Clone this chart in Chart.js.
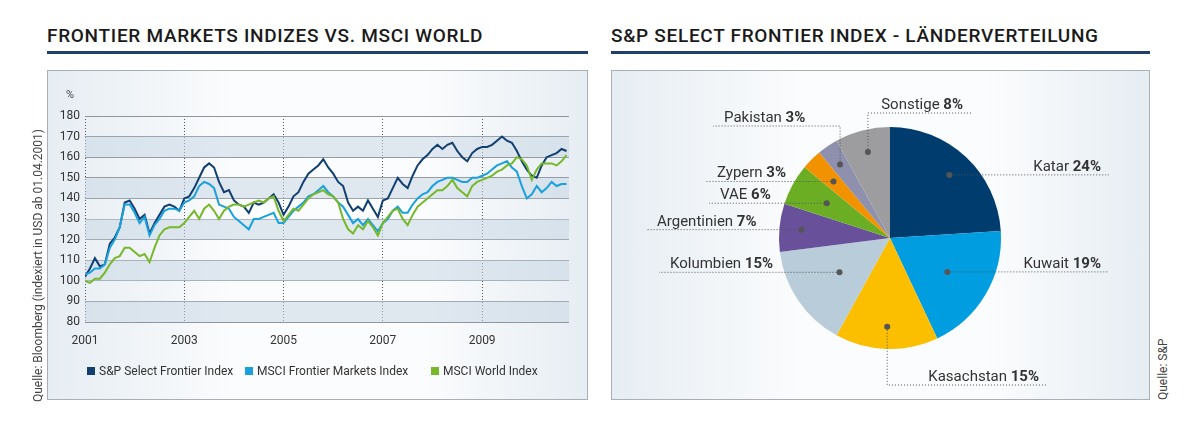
<!DOCTYPE html>
<html>
<head>
<meta charset="utf-8">
<script src="https://cdn.jsdelivr.net/npm/chart.js@4"></script>
<style>
  body { margin: 0; background: #fff; font-family: Roboto, "Liberation Sans", sans-serif; color: #333; }
  #page { position: relative; width: 1192px; height: 438px; }
  .title { position: absolute; top: 24px; font-size: 19px; font-weight: 500; color: #1a1a1a; letter-spacing: 0.7px; }
  .rule { position: absolute; top: 51px; height: 3px; background: #1f3f6e; }
  .panel { position: absolute; top: 70px; height: 330px; border: 1px solid #a9afb5; box-sizing: border-box;
           background: linear-gradient(to right, #e6edf3, #fbfcfd 35%, #fbfcfd 70%, #e6edf3); }
  .panel canvas { position: absolute; left: 0; top: 0; }
  .src { position: absolute; font-size: 12px; color: #444; transform: rotate(-90deg); transform-origin: left top; white-space: nowrap; }
  .legend { position: absolute; top: 364px; font-size: 12px; color: #333; white-space: nowrap; }
  .legend i { display: inline-block; width: 8px; height: 8px; margin-right: 4px; vertical-align: 0px; }
  .pct { position: absolute; left: 66px; top: 88px; font-size: 11px; color: #444; }
</style>
</head>
<body>
<div id="page">
  <div class="title" style="left:47px">FRONTIER MARKETS INDIZES VS. MSCI WORLD</div>
  <div class="rule" style="left:47px;width:541px"></div>
  <div class="title" style="left:611px">S&amp;P SELECT FRONTIER INDEX - LÄNDERVERTEILUNG</div>
  <div class="rule" style="left:611px;width:539px"></div>

  <div class="panel" style="left:47px;width:541px"><canvas id="lineChart"></canvas></div>
  <div class="pct">%</div>
  <div class="legend" style="left:87px"><i style="background:#103f70"></i>S&amp;P Select Frontier Index</div>
  <div class="legend" style="left:245px"><i style="background:#1aa0dc"></i>MSCI Frontier Markets Index</div>
  <div class="legend" style="left:431px"><i style="background:#76b82a"></i>MSCI World Index</div>
  <div class="src" style="left:31px;top:402px">Quelle: Bloomberg (indexiert in USD ab 01.04.2001)</div>

  <div class="panel" style="left:611px;width:539px"><canvas id="pieChart"></canvas></div>
  <div class="src" style="left:1156px;top:400px">Quelle: S&amp;P</div>
</div>
<script>
// Zeitachse (Jahre, Schritt 0.1)
var years = [
  2001.0,2001.1,2001.2,2001.3,2001.4,2001.5,2001.6,2001.7,2001.8,2001.9,
  2002.0,2002.1,2002.2,2002.3,2002.4,2002.5,2002.6,2002.7,2002.8,2002.9,
  2003.0,2003.1,2003.2,2003.3,2003.4,2003.5,2003.6,2003.7,2003.8,2003.9,
  2004.0,2004.1,2004.2,2004.3,2004.4,2004.5,2004.6,2004.7,2004.8,2004.9,
  2005.0,2005.1,2005.2,2005.3,2005.4,2005.5,2005.6,2005.7,2005.8,2005.9,
  2006.0,2006.1,2006.2,2006.3,2006.4,2006.5,2006.6,2006.7,2006.8,2006.9,
  2007.0,2007.1,2007.2,2007.3,2007.4,2007.5,2007.6,2007.7,2007.8,2007.9,
  2008.0,2008.1,2008.2,2008.3,2008.4,2008.5,2008.6,2008.7,2008.8,2008.9,
  2009.0,2009.1,2009.2,2009.3,2009.4,2009.5,2009.6,2009.7,2009.8,2009.9,
  2010.0,2010.1,2010.2,2010.3,2010.4,2010.5,2010.6,2010.7
];
var spSelect = [
  102,106,111,107,108,118,121,126,138,139,
  135,130,132,123,128,132,136,137,136,134,
  140,141,145,150,155,157,155,148,143,144,
  139,137,136,133,138,137,138,140,142,138,
  132,136,141,143,148,152,154,156,159,155,
  152,148,146,138,134,136,134,139,135,131,
  139,140,145,150,147,145,151,156,159,161,
  164,166,164,166,167,163,160,158,162,164,
  165,165,166,168,170,168,167,163,158,154,
  151,150,156,160,161,162,164,163
];
var msciFrontier = [
  103,104,106,106,108,116,120,126,137,137,
  133,128,131,122,127,130,134,135,135,134,
  138,139,141,146,148,147,145,137,136,135,
  131,129,127,125,130,130,131,132,133,128,
  128,131,134,136,138,141,142,144,146,143,
  141,138,136,132,128,130,127,130,127,124,
  128,130,134,136,133,133,137,140,142,143,
  146,148,149,150,150,149,148,148,150,150,
  151,152,154,156,157,158,155,153,146,140,
  142,146,143,145,148,146,147,147
];
var msciWorld = [
  100,99,101,101,104,108,111,112,116,116,
  114,112,113,109,116,122,125,126,126,126,
  128,131,134,130,135,137,134,130,134,136,
  137,137,136,137,138,139,138,140,141,134,
  129,132,135,134,137,140,142,143,144,142,
  141,138,130,125,123,127,125,129,126,122,
  128,131,134,135,130,127,132,136,138,140,
  142,144,144,146,149,145,143,141,146,148,
  149,150,151,153,154,156,157,160,159,156,
  149,154,157,157,157,156,158,161
];
var yTicks = [80,90,100,110,120,130,140,150,160,170,180];
var xTicks = [2001,2003,2005,2007,2009];

// Länderverteilung
var countries = ["Katar","Kuwait","Kasachstan","Kolumbien","Argentinien","VAE","Zypern","Pakistan","Sonstige"];
var shares = [24,19,15,15,7,6,3,3,8];
var sliceColors = ["#003d6e","#009ee0","#fbbf00","#b8cdd9","#68519a","#6bae24","#f39200","#8e90ad","#9d9d9f"];

function pts(vals) { return vals.map(function (v, i) { return { x: years[i], y: v }; }); }

document.addEventListener("DOMContentLoaded", function () {
    Chart.defaults.font.family = "Roboto, 'Liberation Sans', sans-serif";

    // Streifen im Hintergrund
    var bands = {
        id: "bands",
        beforeDatasetsDraw: function (chart) {
            var c = chart.ctx, a = chart.chartArea, y = chart.scales.y;
            c.save();
            c.fillStyle = "rgba(200,215,228,0.55)";
            for (var v = 80; v < 180; v += 20) {
                var top = y.getPixelForValue(v + 10), bot = y.getPixelForValue(v);
                c.fillRect(a.left, top, a.right - a.left, bot - top);
            }
            c.restore();
        }
    };

    var ctx1 = document.getElementById("lineChart");
    ctx1.width = 541; ctx1.height = 330;
    new Chart(ctx1, {
        type: "line",
        data: {
            datasets: [
                { label: "MSCI World Index", data: pts(msciWorld), borderColor: "#76b82a" },
                { label: "MSCI Frontier Markets Index", data: pts(msciFrontier), borderColor: "#1aa0dc" },
                { label: "S&P Select Frontier Index", data: pts(spSelect), borderColor: "#103f70" }
            ]
        },
        plugins: [bands],
        options: {
            responsive: false,
            animation: false,
            elements: { line: { borderWidth: 2, tension: 0 }, point: { radius: 0 } },
            layout: { padding: { left: 0, right: 20, top: 45, bottom: 0 } },
            plugins: { legend: { display: false }, tooltip: { enabled: false } },
            scales: {
                x: {
                    type: "linear", min: 2001, max: 2010.75,
                    afterBuildTicks: function (s) { s.ticks = xTicks.map(function (v) { return { value: v }; }); },
                    afterFit: function (s) { s.height = 79; },
                    ticks: { padding: 12, color: "#333", font: { size: 12 }, callback: function (v) { return String(v); } },
                    grid: { color: "#555", lineWidth: 1, drawTicks: false },
                    border: { display: false }
                },
                y: {
                    min: 80, max: 180,
                    afterBuildTicks: function (s) { s.ticks = yTicks.map(function (v) { return { value: v }; }); },
                    afterFit: function (s) { s.width = 37; },
                    ticks: { padding: 5, color: "#333", font: { size: 12 } },
                    grid: { color: "#8f969c", lineWidth: 1, drawTicks: false },
                    border: { display: false }
                }
            }
        }
    });
    // gestrichelte vertikale Linien
    Chart.getChart(ctx1).options.scales.x.grid.borderDash = [1, 2];
    Chart.getChart(ctx1).options.scales.x.border.dash = [1, 2];
    Chart.getChart(ctx1).update();

    // Beschriftungen mit Führungslinien
    var labelLayout = [
        { end: 219, rf: 0.78 },               // Katar
        { end: 219, rf: 0.6 },                // Kuwait
        { end: 157, rf: 0.8, elbow: 147 },    // Kasachstan
        { end: -231, rf: 0.55 },              // Kolumbien
        { end: -244, rf: 0.8 },               // Argentinien
        { end: -181, rf: 0.65 },              // VAE
        { end: -184, rf: 0.72 },              // Zypern
        { end: -177, rf: 0.8, elbow: -112 },  // Pakistan
        { end: 81, rf: 0.8, elbow: -125 }     // Sonstige
    ];
    var leaders = {
        id: "leaders",
        afterDatasetsDraw: function (chart) {
            var c = chart.ctx, meta = chart.getDatasetMeta(0);
            c.save();
            meta.data.forEach(function (arc, i) {
                var L = labelLayout[i];
                var mid = (arc.startAngle + arc.endAngle) / 2;
                var r = arc.outerRadius * L.rf;
                var dx = arc.x + Math.cos(mid) * r, dy = arc.y + Math.sin(mid) * r;
                var ly = L.elbow !== undefined ? arc.y + L.elbow : dy;
                var ex = arc.x + L.end;
                c.strokeStyle = "#555"; c.lineWidth = 1; c.setLineDash([1, 2]);
                c.beginPath();
                c.moveTo(dx, dy); c.lineTo(dx, ly); c.lineTo(ex, ly);
                c.stroke();
                c.setLineDash([]);
                c.fillStyle = "#555";
                c.beginPath(); c.arc(dx, dy, 3, 0, Math.PI * 2); c.fill();
                var name = countries[i] + " ", pct = shares[i] + "%";
                c.font = "15px Roboto, 'Liberation Sans', sans-serif";
                var w1 = c.measureText(name).width;
                c.font = "bold 15px Roboto, 'Liberation Sans', sans-serif";
                var w2 = c.measureText(pct).width;
                var tx = ex > dx ? ex - 8 - w1 - w2 : ex + 11;
                c.fillStyle = "#333"; c.textBaseline = "alphabetic";
                c.font = "15px Roboto, 'Liberation Sans', sans-serif";
                c.fillText(name, tx, ly - 4);
                c.font = "bold 15px Roboto, 'Liberation Sans', sans-serif";
                c.fillText(pct, tx + w1, ly - 4);
            });
            c.restore();
        }
    };

    var ctx2 = document.getElementById("pieChart");
    ctx2.width = 539; ctx2.height = 328;
    new Chart(ctx2, {
        type: "pie",
        data: {
            labels: countries,
            datasets: [{ data: shares, backgroundColor: sliceColors, borderWidth: 0 }]
        },
        plugins: [leaders],
        options: {
            responsive: false,
            animation: false,
            layout: { padding: { left: 167, right: 150, top: 56, bottom: 50 } },
            plugins: { legend: { display: false }, tooltip: { enabled: false } }
        }
    });
});
</script>
</body>
</html>
